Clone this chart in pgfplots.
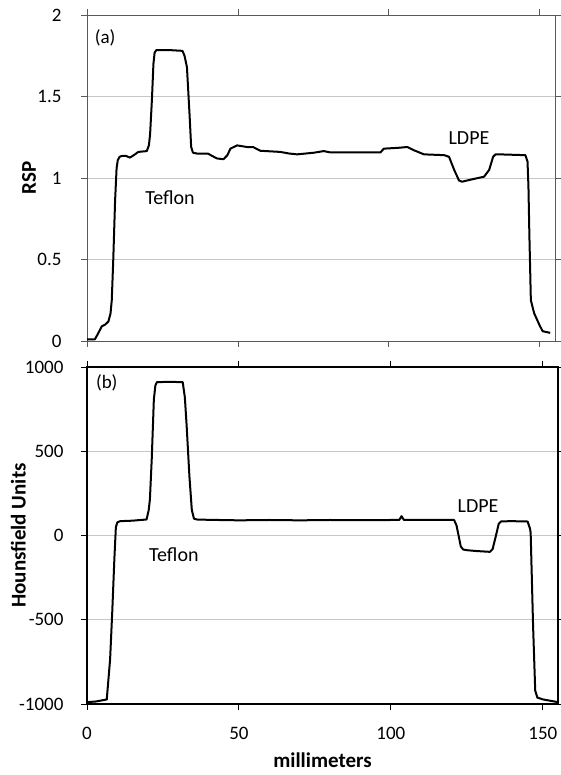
\documentclass[border=0pt]{standalone}
\usepackage{fontspec}
\setmainfont{Carlito}
\usepackage{pgfplots}
\pgfplotsset{compat=1.18}

\pgfplotsset{
  profile/.style={
    scale only axis,
    xmin=0, xmax=155,
    xtick={0,50,100,150},
    tick align=outside,
    major tick length=6pt,
    ymajorgrids,
    major grid style={gray!45, line width=0.6pt},
    tick label style={font=\fontsize{19}{19}\selectfont, black},
    /pgf/number format/assume math mode=true,
    label style={font=\bfseries\fontsize{21}{21}\selectfont},
    clip=false,
  },
}

\begin{document}
\begin{tikzpicture}
\useasboundingbox (0,0) rectangle (561pt,775pt);

% (a) stopping power ratio
\begin{axis}[profile,
  at={(87pt,434pt)}, anchor=south west,
  width=468pt, height=326pt,
  ymin=0, ymax=2,
  ytick={0,0.5,1,1.5,2},
  yticklabels={0,0.5,1,1.5,2},
  yticklabel style={xshift=-16pt},
  xticklabels={},
  axis line style={gray!70!black, line width=0.9pt},
  tick style={gray!70!black, line width=0.9pt},
  ylabel={RSP},
  ylabel style={at={(axis description cs:-0.124,0.5)}, anchor=center},
]
\addplot[black, line width=2pt, line join=round] coordinates {
 (0,0.01) (2.6,0.01) (3.5,0.04) (4.9,0.09) (6,0.1) (7.1,0.12) (7.8,0.17)
 (8.2,0.25) (8.7,0.5) (9.3,0.86) (9.8,1.06) (10.2,1.11) (10.8,1.13) (11.5,1.135)
 (13,1.135) (14.2,1.125) (15.5,1.14) (17,1.16) (19.8,1.165) (20.5,1.2)
 (20.9,1.27) (21.5,1.48) (22,1.70) (22.4,1.77) (23,1.785) (27,1.785) (31.6,1.78)
 (32.3,1.75) (33.1,1.68) (34,1.376) (34.5,1.19) (35.1,1.155) (36.4,1.15) (40,1.15)
 (43,1.12) (45.2,1.115) (46.5,1.14) (47.5,1.18) (49.7,1.2) (53,1.19)
 (55,1.19) (57.4,1.167) (64,1.16) (67,1.15) (69.6,1.145) (75.1,1.155)
 (78.4,1.165) (80.6,1.157) (97.2,1.157) (98.3,1.18) (103,1.185)
 (106.1,1.19) (108.3,1.17) (111.6,1.145) (118.3,1.14) (119.9,1.13)
 (121.6,1.05) (123.2,0.985) (124.2,0.977) (127.1,0.99) (131.5,1.008) (133.2,1.05)
 (134.5,1.13) (135.3,1.145) (136.5,1.145) (145.2,1.14) (145.9,1.10) (146.2,0.95) (146.5,0.66)
 (147,0.25) (148.1,0.17) (149.8,0.1) (150.9,0.06) (153.4,0.05)
};
\node[font=\fontsize{19}{19}\selectfont] at (axis cs:6,1.86) {(a)};
\node[font=\fontsize{20}{20}\selectfont] at (axis cs:27.5,0.88) {Teflon};
\node[font=\fontsize{20}{20}\selectfont] at (axis cs:126.5,1.245) {LDPE};
\end{axis}

% (b) Hounsfield units
\begin{axis}[profile,
  at={(87pt,71pt)}, anchor=south west,
  width=471pt, height=337pt,
  ymin=-1000, ymax=1000,
  ytick={-1000,-500,0,500,1000},
  yticklabels={-1000,-500,0,500,1000},
  yticklabel style={xshift=-14pt},
  xticklabels={0,50,100,150},
  axis line style={black, line width=1.1pt},
  tick style={black, line width=0.9pt},
  ylabel={Hounsfield Units},
  ylabel style={at={(axis description cs:-0.146,0.5)}, anchor=center},
  xlabel={millimeters},
  xlabel style={at={(axis description cs:0.5,-0.166)}, anchor=center},
  xticklabel style={yshift=-14pt},
]
\addplot[black, line width=2pt, line join=round] coordinates {
 (0,-989) (3,-985) (6.5,-973) (7.6,-736) (8.3,-457) (9,-142) (9.5,50) (10,78)
 (10.9,85) (15,88) (19.6,95) (20.3,150) (20.7,214) (21.3,451) (22,807) (22.5,890) (23,910)
 (27,912) (31.5,910) (32.2,820) (32.8,649) (33.7,352) (34.5,150) (35.2,100) (36.1,95) (40,93)
 (50,90) (60,92) (70,90) (80,92) (90,91) (100,92) (102.8,93) (103.5,115)
 (104.3,92) (110,92) (120.8,92) (121.6,60) (122.1,16) (123,-65) (123.8,-83) (124.9,-87)
 (128,-92) (132.6,-97) (133.5,-80) (134.8,16) (135.5,70) (136.3,84) (140,85)
 (145,83) (145.8,40) (146,16) (146.8,-538) (147.5,-920) (148.2,-962) (150.1,-973) (155,-989)
};
\node[font=\fontsize{19}{19}\selectfont] at (axis cs:6.5,906) {(b)};
\node[font=\fontsize{20}{20}\selectfont] at (axis cs:28.6,-113) {Teflon};
\node[font=\fontsize{20}{20}\selectfont] at (axis cs:128.7,174) {LDPE};
\end{axis}
\end{tikzpicture}
\end{document}
